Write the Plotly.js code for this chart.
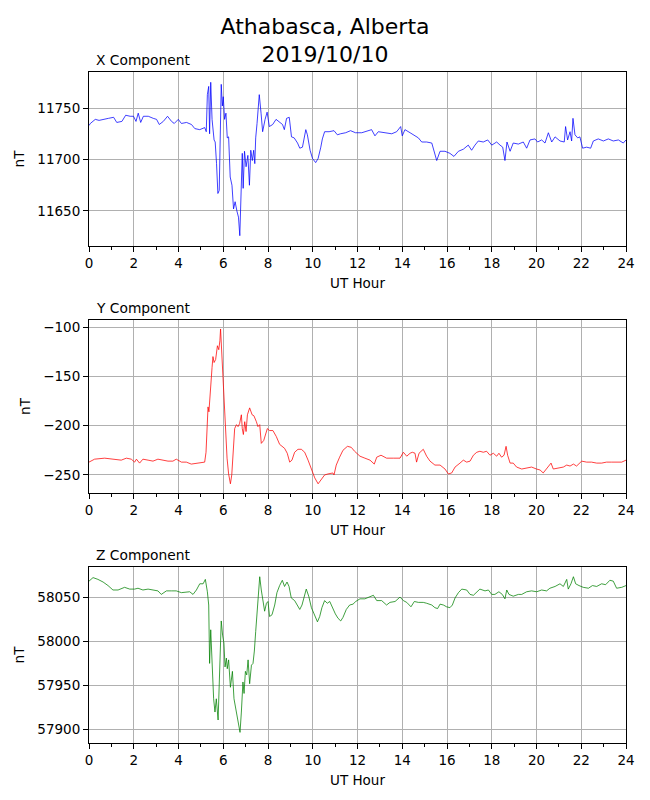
<!DOCTYPE html>
<html>
<head>
<meta charset="utf-8">
<script src="https://cdn.plot.ly/plotly-3.0.1.min.js"></script>
<style>
  body { margin: 0; background: #fff; }
  #grafica { width: 650px; height: 800px; }
</style>
</head>
<body>
<div id="grafica"></div>
<script>
// Athabasca, Alberta - 2019/10/10, componentes X, Y, Z (nT) contra hora UT

const tituloTexto = 'Athabasca, Alberta<br>2019/10/10';
const componentes = ['X Component', 'Y Component', 'Z Component'];
const horasTicks = [0, 2, 4, 6, 8, 10, 12, 14, 16, 18, 20, 22, 24];

// componente X
const horasX = [0.0, 0.06, 0.28, 0.45, 0.87, 1.1, 1.24, 1.47, 1.64, 1.84, 1.99, 2.1, 2.2, 2.31, 2.43, 2.65, 2.87,
  3.02, 3.14, 3.32, 3.51, 3.69, 3.81, 3.99, 4.13, 4.36, 4.58, 4.73, 4.95, 5.17, 5.24, 5.29, 5.35, 5.39,
  5.44, 5.5, 5.59, 5.64, 5.7, 5.76, 5.82, 5.87, 5.91, 5.96, 6.0, 6.06, 6.12, 6.18, 6.24, 6.31, 6.39,
  6.46, 6.53, 6.61, 6.68, 6.74, 6.8, 6.85, 6.89, 6.95, 7.02, 7.1, 7.17, 7.23, 7.3, 7.36, 7.41, 7.45,
  7.51, 7.57, 7.61, 7.69, 7.76, 7.87, 7.96, 8.06, 8.21, 8.36, 8.5, 8.65, 8.73, 8.83, 8.95, 9.05, 9.17,
  9.32, 9.42, 9.54, 9.69, 9.76, 9.88, 9.99, 10.13, 10.24, 10.36, 10.43, 10.53, 10.73, 10.95, 11.1,
  11.24, 11.47, 11.69, 11.91, 12.19, 12.48, 12.63, 12.78, 12.93, 13.23, 13.53, 13.75, 13.93, 14.0,
  14.12, 14.35, 14.54, 14.72, 14.87, 15.09, 15.32, 15.43, 15.54, 15.69, 15.91, 16.13, 16.31, 16.51,
  16.73, 16.95, 17.1, 17.25, 17.4, 17.62, 17.82, 18.0, 18.22, 18.37, 18.49, 18.59, 18.68, 18.82,
  18.96, 19.19, 19.41, 19.56, 19.71, 19.93, 20.05, 20.23, 20.38, 20.53, 20.68, 20.83, 21.05, 21.24,
  21.3, 21.39, 21.5, 21.57, 21.63, 21.72, 21.84, 21.94, 22.06, 22.24, 22.42, 22.54, 22.76, 22.99,
  23.21, 23.43, 23.66, 23.88, 24.0];
const valoresX = [11733, 11735, 11739, 11738, 11740, 11741, 11736, 11737, 11743, 11742, 11742, 11737, 11745,
  11736, 11742, 11742, 11740, 11739, 11734, 11737, 11742, 11737, 11735, 11739, 11735, 11736, 11734,
  11730, 11729, 11731, 11727, 11763, 11771, 11725, 11775, 11739, 11719, 11717, 11696, 11667, 11670,
  11722, 11773, 11752, 11761, 11739, 11745, 11721, 11722, 11683, 11675, 11652, 11659, 11650, 11644,
  11626, 11660, 11706, 11672, 11708, 11693, 11704, 11675, 11709, 11699, 11709, 11696, 11721, 11735,
  11755, 11763, 11745, 11727, 11739, 11746, 11732, 11734, 11739, 11737, 11734, 11729, 11740, 11741,
  11722, 11721, 11716, 11711, 11712, 11729, 11724, 11709, 11701, 11697, 11701, 11712, 11720, 11727,
  11727, 11728, 11724, 11725, 11726, 11728, 11726, 11726, 11728, 11729, 11723, 11727, 11726, 11725,
  11727, 11732, 11723, 11729, 11726, 11723, 11721, 11717, 11717, 11716, 11708, 11699, 11708, 11708,
  11706, 11703, 11708, 11710, 11714, 11709, 11714, 11718, 11717, 11719, 11714, 11717, 11714, 11712,
  11699, 11717, 11708, 11716, 11715, 11717, 11711, 11719, 11720, 11717, 11719, 11716, 11726, 11717,
  11722, 11718, 11717, 11732, 11719, 11727, 11718, 11740, 11724, 11721, 11722, 11711, 11712, 11711,
  11718, 11720, 11718, 11720, 11718, 11719, 11716, 11719];

// componente Y
const horasY = [0.0, 0.25, 0.7, 1.15, 1.44, 1.67, 1.89, 2.04, 2.12, 2.26, 2.41, 2.64, 2.86, 3.08, 3.31, 3.53,
  3.75, 3.9, 4.13, 4.35, 4.57, 4.8, 5.02, 5.17, 5.23, 5.27, 5.32, 5.36, 5.44, 5.5, 5.54, 5.59, 5.66,
  5.74, 5.8, 5.85, 5.88, 5.93, 5.99, 6.03, 6.09, 6.17, 6.24, 6.32, 6.38, 6.44, 6.51, 6.59, 6.66, 6.73,
  6.81, 6.85, 6.9, 6.96, 7.02, 7.08, 7.18, 7.29, 7.37, 7.48, 7.55, 7.63, 7.7, 7.81, 7.9, 7.97, 8.07,
  8.22, 8.37, 8.52, 8.74, 8.86, 8.97, 9.07, 9.19, 9.34, 9.49, 9.64, 9.79, 9.94, 10.09, 10.24, 10.38,
  10.53, 10.68, 10.9, 10.95, 11.05, 11.2, 11.35, 11.55, 11.72, 11.87, 12.11, 12.33, 12.56, 12.75,
  12.86, 13.05, 13.3, 13.6, 13.9, 14.05, 14.2, 14.35, 14.45, 14.57, 14.64, 14.75, 14.94, 15.09,
  15.24, 15.46, 15.69, 15.91, 16.06, 16.21, 16.36, 16.58, 16.73, 16.88, 17.03, 17.18, 17.33, 17.47,
  17.62, 17.77, 17.92, 18.07, 18.22, 18.32, 18.44, 18.55, 18.64, 18.71, 18.82, 18.96, 19.11, 19.34,
  19.56, 19.78, 20.0, 20.16, 20.3, 20.45, 20.65, 20.75, 20.98, 21.2, 21.35, 21.5, 21.65, 21.79, 22.02,
  22.24, 22.46, 22.69, 22.91, 23.13, 23.36, 23.58, 23.81, 24.0];
const valoresY = [-237, -234, -233, -234, -235, -233, -234, -237, -234, -238, -234, -235, -236, -234, -235,
  -236, -236, -234, -237, -237, -239, -238, -237, -237, -227, -204, -181, -186, -155, -141, -130, -136,
  -133, -119, -123, -114, -102, -124, -158, -178, -206, -233, -249, -259, -250, -227, -203, -199, -201,
  -198, -189, -203, -209, -196, -206, -189, -182, -189, -190, -196, -201, -199, -218, -215, -208, -203,
  -205, -205, -211, -219, -223, -228, -237, -235, -227, -224, -224, -227, -235, -245, -253, -259, -254,
  -250, -249, -248, -250, -240, -232, -225, -221, -222, -226, -231, -233, -235, -239, -232, -230, -233,
  -233, -233, -227, -231, -228, -227, -228, -237, -228, -224, -231, -236, -240, -240, -244, -249, -248,
  -242, -238, -235, -237, -236, -230, -227, -226, -227, -226, -230, -228, -231, -228, -232, -230, -221,
  -230, -238, -238, -242, -244, -243, -242, -244, -245, -248, -244, -238, -244, -243, -242, -240, -241,
  -239, -241, -236, -237, -237, -238, -238, -237, -237, -237, -237, -235];

// componente Z
const horasZ = [0.0, 0.18, 0.4, 0.63, 0.85, 1.07, 1.3, 1.59, 1.82, 2.04, 2.19, 2.41, 2.64, 2.86, 3.08, 3.23,
  3.46, 3.68, 3.9, 4.13, 4.35, 4.5, 4.65, 4.8, 4.95, 5.1, 5.2, 5.29, 5.35, 5.39, 5.44, 5.5, 5.57, 5.63,
  5.69, 5.77, 5.84, 5.91, 5.97, 6.03, 6.08, 6.14, 6.18, 6.24, 6.32, 6.41, 6.48, 6.56, 6.63, 6.69, 6.75,
  6.81, 6.88, 6.93, 6.99, 7.05, 7.11, 7.18, 7.26, 7.33, 7.39, 7.45, 7.52, 7.58, 7.63, 7.7, 7.78, 7.85,
  7.93, 8.0, 8.07, 8.18, 8.3, 8.4, 8.52, 8.64, 8.74, 8.85, 8.94, 9.04, 9.19, 9.31, 9.42, 9.52, 9.61,
  9.71, 9.82, 9.94, 10.06, 10.21, 10.31, 10.41, 10.53, 10.65, 10.76, 10.9, 11.01, 11.13, 11.25, 11.35,
  11.5, 11.65, 11.8, 11.92, 12.11, 12.33, 12.56, 12.71, 12.86, 13.08, 13.3, 13.45, 13.68, 13.9, 14.05,
  14.2, 14.39, 14.54, 14.72, 14.94, 15.09, 15.32, 15.46, 15.58, 15.69, 15.84, 15.98, 16.13, 16.24,
  16.36, 16.51, 16.66, 16.88, 17.03, 17.18, 17.33, 17.47, 17.7, 17.85, 18.0, 18.14, 18.32, 18.47,
  18.59, 18.67, 18.77, 18.96, 19.19, 19.34, 19.56, 19.78, 20.01, 20.23, 20.45, 20.6, 20.83, 21.05,
  21.2, 21.35, 21.42, 21.54, 21.65, 21.75, 21.9, 22.09, 22.32, 22.5, 22.69, 22.91, 23.09, 23.28, 23.43,
  23.58, 23.81, 24.0];
const valoresZ = [58068, 58072, 58070, 58067, 58063, 58058, 58058, 58061, 58059, 58059, 58060, 58058, 58059,
  58058, 58057, 58053, 58057, 58057, 58057, 58055, 58056, 58056, 58053, 58058, 58065, 58065, 58070,
  58056, 58041, 57975, 58013, 57973, 57935, 57920, 57935, 57911, 57958, 58023, 58007, 57998, 57971,
  57981, 57969, 57979, 57948, 57966, 57935, 57924, 57911, 57907, 57897, 57920, 57954, 57941, 57966,
  57962, 57979, 57952, 57973, 57975, 57989, 58011, 58034, 58056, 58073, 58058, 58045, 58034, 58043,
  58045, 58028, 58030, 58041, 58055, 58063, 58069, 58062, 58067, 58062, 58049, 58046, 58041, 58036,
  58041, 58051, 58059, 58051, 58038, 58031, 58022, 58028, 58038, 58046, 58043, 58045, 58036, 58031,
  58026, 58023, 58027, 58036, 58041, 58042, 58045, 58048, 58048, 58050, 58052, 58046, 58046, 58041,
  58044, 58045, 58050, 58046, 58044, 58039, 58045, 58044, 58044, 58043, 58041, 58038, 58037, 58042,
  58041, 58039, 58038, 58041, 58049, 58055, 58059, 58058, 58053, 58052, 58056, 58059, 58057, 58058,
  58053, 58053, 58056, 58053, 58048, 58058, 58053, 58051, 58053, 58053, 58056, 58057, 58056, 58058,
  58057, 58060, 58062, 58065, 58062, 58070, 58059, 58065, 58073, 58065, 58063, 58061, 58060, 58063,
  58062, 58065, 58064, 58069, 58068, 58060, 58061, 58063];

const rangos = [[11616, 11785], [-268.3, -92.9], [57885, 58084]];
const colores = ['#0000ff', '#ff0000', '#008000'];
const dominios = [[0.7407, 1.0], [0.3726, 0.6304], [0.0, 0.2623]];

let fuente = 'DejaVu Sans, sans-serif';
let trazos = [
  {x: horasX, y: valoresX, xaxis: 'x', yaxis: 'y'},
  {x: horasY, y: valoresY, xaxis: 'x2', yaxis: 'y2'},
  {x: horasZ, y: valoresZ, xaxis: 'x3', yaxis: 'y3'}
].map(function (t, i) {
  t.type = 'scatter';
  t.mode = 'lines';
  t.line = {color: colores[i], width: 0.75};
  t.hoverinfo = 'x+y';
  return t;
});

let layout = {
  width: 650,
  height: 800,
  paper_bgcolor: '#fff',
  plot_bgcolor: '#fff',
  showlegend: false,
  font: {family: fuente, size: 13.5, color: '#000'},
  margin: {l: 89, r: 24, t: 72, b: 57},
  title: {
    text: tituloTexto,
    font: {family: fuente, size: 22, color: '#000'},
    x: 0.5, xref: 'container', xanchor: 'center',
    y: 0.958, yref: 'container', yanchor: 'top'
  },
  annotations: []
};

for (let i = 0; i < 3; i++) {
  let sufijo = i === 0 ? '' : String(i + 1);
  layout['xaxis' + sufijo] = {
    anchor: 'y' + sufijo,
    range: [0, 24],
    tickvals: horasTicks,
    ticks: 'outside', ticklen: 5, tickwidth: 1, tickcolor: '#000',
    minor: {dtick: 1, ticks: 'outside', ticklen: 3, tickwidth: 1, tickcolor: '#000', showgrid: false},
    showline: true, mirror: true, linecolor: '#000', linewidth: 1,
    showgrid: true, gridcolor: '#b0b0b0', gridwidth: 1,
    zeroline: false,
    title: {text: 'UT Hour', standoff: 8, font: {size: 13.5}}
  };
  layout['yaxis' + sufijo] = {
    anchor: 'x' + sufijo,
    domain: dominios[i],
    range: rangos[i],
    dtick: 50,
    ticks: 'outside', ticklen: 5, tickwidth: 1, tickcolor: '#000',
    showline: true, mirror: true, linecolor: '#000', linewidth: 1,
    showgrid: true, gridcolor: '#b0b0b0', gridwidth: 1,
    zeroline: false,
    tickformat: 'd',
    separatethousands: false,
    title: {text: 'nT', standoff: 9, font: {size: 13.5}}
  };
  layout.annotations.push({
    text: componentes[i],
    xref: 'x' + sufijo + ' domain', yref: 'y' + sufijo + ' domain',
    x: 0.009, y: 1, xanchor: 'left', yanchor: 'bottom', yshift: 2,
    showarrow: false,
    font: {family: fuente, size: 13.8, color: '#000'}
  });
}

Plotly.newPlot('grafica', trazos, layout, {displayModeBar: false, staticPlot: true});
</script>
</body>
</html>
